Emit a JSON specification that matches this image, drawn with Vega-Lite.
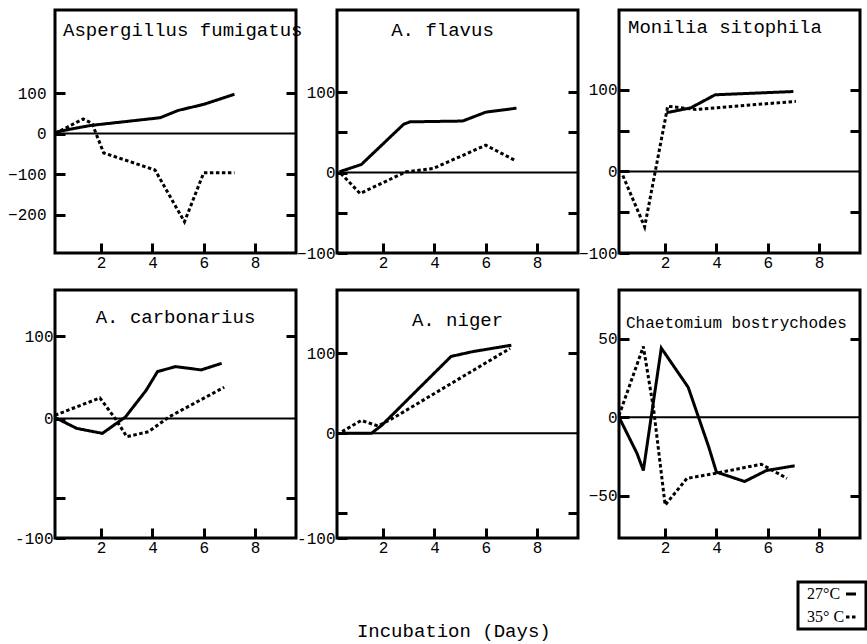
{
"$schema": "https://vega.github.io/schema/vega-lite/v6.json",
"background": "white",
"padding": {"left": 6, "top": 8, "right": 5, "bottom": 4},
"config": {
  "view": {"stroke": "black", "strokeWidth": 3},
  "axis": {"domain": false, "grid": false, "tickColor": "black", "tickWidth": 3, "tickSize": -10, "labelFont": "Liberation Mono", "labelFontSize": 16, "labelColor": "black", "title": null, "labelPadding": 12},
  "axisX": {"labelPadding": 11},
  "title": {"font": "Liberation Mono", "fontSize": 19, "fontWeight": "normal", "color": "black", "frame": "group"},
  "legend": {"symbolType": "stroke", "symbolStrokeWidth": 3, "symbolSize": 100, "symbolStrokeColor": "black", "labelFont": "Liberation Serif", "labelFontSize": 16, "labelColor": "black", "strokeColor": "black", "padding": 4, "rowPadding": 7}
},
"data": {"values": [
{"p":"Aspergillus fumigatus","t":"27°C","d":0.2,"v":3},
{"p":"Aspergillus fumigatus","t":"27°C","d":0.9,"v":12},
{"p":"Aspergillus fumigatus","t":"27°C","d":1.6,"v":20},
{"p":"Aspergillus fumigatus","t":"27°C","d":4.3,"v":39},
{"p":"Aspergillus fumigatus","t":"27°C","d":5.0,"v":57},
{"p":"Aspergillus fumigatus","t":"27°C","d":6.0,"v":72},
{"p":"Aspergillus fumigatus","t":"27°C","d":7.2,"v":97},
{"p":"Aspergillus fumigatus","t":"35° C","d":0.2,"v":0},
{"p":"Aspergillus fumigatus","t":"35° C","d":1.3,"v":36},
{"p":"Aspergillus fumigatus","t":"35° C","d":1.65,"v":25},
{"p":"Aspergillus fumigatus","t":"35° C","d":1.8,"v":0},
{"p":"Aspergillus fumigatus","t":"35° C","d":2.1,"v":-48},
{"p":"Aspergillus fumigatus","t":"35° C","d":4.1,"v":-90},
{"p":"Aspergillus fumigatus","t":"35° C","d":5.25,"v":-218},
{"p":"Aspergillus fumigatus","t":"35° C","d":6.0,"v":-97},
{"p":"Aspergillus fumigatus","t":"35° C","d":7.2,"v":-97},
{"p":"A. flavus","t":"27°C","d":0.3,"v":1},
{"p":"A. flavus","t":"27°C","d":1.15,"v":10},
{"p":"A. flavus","t":"27°C","d":2.8,"v":60},
{"p":"A. flavus","t":"27°C","d":3.05,"v":63},
{"p":"A. flavus","t":"27°C","d":5.1,"v":64},
{"p":"A. flavus","t":"27°C","d":6.0,"v":75},
{"p":"A. flavus","t":"27°C","d":7.2,"v":80},
{"p":"A. flavus","t":"35° C","d":0.35,"v":-1},
{"p":"A. flavus","t":"35° C","d":1.1,"v":-26},
{"p":"A. flavus","t":"35° C","d":2.9,"v":1},
{"p":"A. flavus","t":"35° C","d":3.95,"v":5},
{"p":"A. flavus","t":"35° C","d":6.0,"v":34},
{"p":"A. flavus","t":"35° C","d":7.15,"v":15},
{"p":"Monilia sitophila","t":"27°C","d":2.05,"v":72},
{"p":"Monilia sitophila","t":"27°C","d":3.0,"v":78},
{"p":"Monilia sitophila","t":"27°C","d":3.95,"v":94},
{"p":"Monilia sitophila","t":"27°C","d":7.0,"v":98},
{"p":"Monilia sitophila","t":"35° C","d":0.35,"v":-5},
{"p":"Monilia sitophila","t":"35° C","d":1.2,"v":-68},
{"p":"Monilia sitophila","t":"35° C","d":2.1,"v":80},
{"p":"Monilia sitophila","t":"35° C","d":3.2,"v":76},
{"p":"Monilia sitophila","t":"35° C","d":7.1,"v":86},
{"p":"A. carbonarius","t":"27°C","d":0.15,"v":2},
{"p":"A. carbonarius","t":"27°C","d":1.05,"v":-12},
{"p":"A. carbonarius","t":"27°C","d":2.05,"v":-18},
{"p":"A. carbonarius","t":"27°C","d":2.95,"v":2},
{"p":"A. carbonarius","t":"27°C","d":3.75,"v":34},
{"p":"A. carbonarius","t":"27°C","d":4.2,"v":57},
{"p":"A. carbonarius","t":"27°C","d":4.9,"v":63},
{"p":"A. carbonarius","t":"27°C","d":5.9,"v":59},
{"p":"A. carbonarius","t":"27°C","d":6.7,"v":67},
{"p":"A. carbonarius","t":"35° C","d":0.2,"v":4},
{"p":"A. carbonarius","t":"35° C","d":1.95,"v":25},
{"p":"A. carbonarius","t":"35° C","d":2.55,"v":0},
{"p":"A. carbonarius","t":"35° C","d":3.0,"v":-22},
{"p":"A. carbonarius","t":"35° C","d":3.85,"v":-16},
{"p":"A. carbonarius","t":"35° C","d":4.65,"v":2},
{"p":"A. carbonarius","t":"35° C","d":6.8,"v":38},
{"p":"A. niger","t":"27°C","d":0.4,"v":0},
{"p":"A. niger","t":"27°C","d":1.55,"v":0},
{"p":"A. niger","t":"27°C","d":1.95,"v":10},
{"p":"A. niger","t":"27°C","d":4.65,"v":96},
{"p":"A. niger","t":"27°C","d":5.5,"v":102},
{"p":"A. niger","t":"27°C","d":7.0,"v":110},
{"p":"A. niger","t":"35° C","d":0.4,"v":2},
{"p":"A. niger","t":"35° C","d":1.15,"v":16},
{"p":"A. niger","t":"35° C","d":1.8,"v":9},
{"p":"A. niger","t":"35° C","d":2.45,"v":20},
{"p":"A. niger","t":"35° C","d":6.95,"v":106},
{"p":"Chaetomium bostrychodes","t":"27°C","d":0.2,"v":0},
{"p":"Chaetomium bostrychodes","t":"27°C","d":0.9,"v":-23},
{"p":"Chaetomium bostrychodes","t":"27°C","d":1.15,"v":-34},
{"p":"Chaetomium bostrychodes","t":"27°C","d":1.85,"v":44},
{"p":"Chaetomium bostrychodes","t":"27°C","d":2.9,"v":19},
{"p":"Chaetomium bostrychodes","t":"27°C","d":3.7,"v":-19},
{"p":"Chaetomium bostrychodes","t":"27°C","d":4.0,"v":-35},
{"p":"Chaetomium bostrychodes","t":"27°C","d":5.1,"v":-41},
{"p":"Chaetomium bostrychodes","t":"27°C","d":5.95,"v":-34},
{"p":"Chaetomium bostrychodes","t":"27°C","d":7.05,"v":-31},
{"p":"Chaetomium bostrychodes","t":"35° C","d":0.2,"v":1},
{"p":"Chaetomium bostrychodes","t":"35° C","d":1.15,"v":45},
{"p":"Chaetomium bostrychodes","t":"35° C","d":1.55,"v":5},
{"p":"Chaetomium bostrychodes","t":"35° C","d":2.0,"v":-56},
{"p":"Chaetomium bostrychodes","t":"35° C","d":2.85,"v":-39},
{"p":"Chaetomium bostrychodes","t":"35° C","d":3.9,"v":-36},
{"p":"Chaetomium bostrychodes","t":"35° C","d":5.75,"v":-30},
{"p":"Chaetomium bostrychodes","t":"35° C","d":6.75,"v":-39}
]},
"title": {"text": "Incubation (Days)", "orient": "bottom", "anchor": "middle", "offset": -9, "dx": 17, "fontSize": 19, "frame": "bounds"},
"columns": 3,
"spacing": {"row": 37, "column": 41},
"bounds": "flush",
"concat": [
{
 "width": 241, "height": 243,
 "title": {"text": "Aspergillus fumigatus", "anchor": "start", "dx": 8, "offset": -30},
 "layer": [
  {"data": {"values": [{}]}, "mark": {"type": "rule", "color": "black", "strokeWidth": 2}, "encoding": {"y": {"datum": 0, "type": "quantitative", "axis": {"orient": "right", "labels": false, "values": [-200, -100, 100]}}}},
  {"transform": [{"filter": "datum.p == 'Aspergillus fumigatus'"}],
   "mark": {"type": "line", "color": "black", "strokeWidth": 3, "clip": true},
   "encoding": {
    "x": {"field": "d", "type": "quantitative", "scale": {"domain": [0.2, 9.6], "nice": false, "zero": false}, "axis": {"values": [2, 4, 6, 8], "orient": "bottom"}},
    "y": {"field": "v", "type": "quantitative", "scale": {"domain": [-295, 305], "nice": false, "zero": false}, "axis": {"orient": "left", "values": [-200, -100, 0, 100], "labelPadding": 19}},
    "strokeDash": {"field": "t", "type": "nominal", "scale": {"domain": ["27°C", "35° C"], "range": [[1, 0], [3.5, 2.5]]}, "legend": {"title": null, "orient": "none", "legendX": 743, "legendY": 572, "symbolOffset": 41, "labelOffset": -52, "encode": {"legend": {"update": {"strokeWidth": {"value": 3}}}}}}
   }}
 ],
 "resolve": {"axis": {"y": "independent"}}
},
{
 "width": 241, "height": 243,
 "title": {"text": "A. flavus", "anchor": "middle", "dx": -15, "offset": -30},
 "layer": [
  {"data": {"values": [{}]}, "mark": {"type": "rule", "color": "black", "strokeWidth": 2}, "encoding": {"y": {"datum": 0, "type": "quantitative", "axis": {"orient": "right", "labels": false, "values": [-50, 50, 100]}}}},
  {"transform": [{"filter": "datum.p == 'A. flavus'"}],
   "mark": {"type": "line", "color": "black", "strokeWidth": 3, "clip": true},
   "encoding": {
    "x": {"field": "d", "type": "quantitative", "scale": {"domain": [0.2, 9.6], "nice": false, "zero": false}, "axis": {"values": [2, 4, 6, 8], "orient": "bottom"}},
    "y": {"field": "v", "type": "quantitative", "scale": {"domain": [-100, 202], "nice": false, "zero": false}, "axis": {"orient": "left", "values": [-100, -50, 0, 50, 100], "labelExpr": "datum.value == 50 || datum.value == -50 ? '' : datum.label"}},
    "strokeDash": {"field": "t", "type": "nominal", "scale": {"domain": ["27°C", "35° C"], "range": [[1, 0], [3.5, 2.5]]}, "legend": {"title": null, "orient": "none", "legendX": 743, "legendY": 572, "symbolOffset": 41, "labelOffset": -52, "encode": {"legend": {"update": {"strokeWidth": {"value": 3}}}}}}
   }}
 ],
 "resolve": {"axis": {"y": "independent"}}
},
{
 "width": 241, "height": 243,
 "title": {"text": "Monilia sitophila", "anchor": "start", "dx": 9, "offset": -27},
 "layer": [
  {"data": {"values": [{}]}, "mark": {"type": "rule", "color": "black", "strokeWidth": 2}, "encoding": {"y": {"datum": 0, "type": "quantitative", "axis": {"orient": "right", "labels": false, "values": [-50, 50, 100]}}}},
  {"transform": [{"filter": "datum.p == 'Monilia sitophila'"}],
   "mark": {"type": "line", "color": "black", "strokeWidth": 3, "clip": true},
   "encoding": {
    "x": {"field": "d", "type": "quantitative", "scale": {"domain": [0.2, 9.6], "nice": false, "zero": false}, "axis": {"values": [2, 4, 6, 8], "orient": "bottom"}},
    "y": {"field": "v", "type": "quantitative", "scale": {"domain": [-100, 198], "nice": false, "zero": false}, "axis": {"orient": "left", "values": [-100, -50, 0, 50, 100], "labelExpr": "datum.value == 50 || datum.value == -50 ? '' : datum.label"}},
    "strokeDash": {"field": "t", "type": "nominal", "scale": {"domain": ["27°C", "35° C"], "range": [[1, 0], [3.5, 2.5]]}, "legend": {"title": null, "orient": "none", "legendX": 743, "legendY": 572, "symbolOffset": 41, "labelOffset": -52, "encode": {"legend": {"update": {"strokeWidth": {"value": 3}}}}}}
   }}
 ],
 "resolve": {"axis": {"y": "independent"}}
},
{
 "width": 241, "height": 248,
 "title": {"text": "A. carbonarius", "anchor": "middle", "offset": -37},
 "layer": [
  {"data": {"values": [{}]}, "mark": {"type": "rule", "color": "black", "strokeWidth": 2}, "encoding": {"y": {"datum": 0, "type": "quantitative", "axis": {"orient": "right", "labels": false, "values": [-96, 100]}}}},
  {"transform": [{"filter": "datum.p == 'A. carbonarius'"}],
   "mark": {"type": "line", "color": "black", "strokeWidth": 3, "clip": true},
   "encoding": {
    "x": {"field": "d", "type": "quantitative", "scale": {"domain": [0.2, 9.6], "nice": false, "zero": false}, "axis": {"values": [2, 4, 6, 8], "orient": "bottom"}},
    "y": {"field": "v", "type": "quantitative", "scale": {"domain": [-145, 156], "nice": false, "zero": false}, "axis": {"orient": "left", "values": [-145, -96, 0, 100], "labelExpr": "datum.value == -145 ? '-100' : datum.value == -96 ? '' : datum.label"}},
    "strokeDash": {"field": "t", "type": "nominal", "scale": {"domain": ["27°C", "35° C"], "range": [[1, 0], [3.5, 2.5]]}, "legend": {"title": null, "orient": "none", "legendX": 743, "legendY": 572, "symbolOffset": 41, "labelOffset": -52, "encode": {"legend": {"update": {"strokeWidth": {"value": 3}}}}}}
   }}
 ],
 "resolve": {"axis": {"y": "independent"}}
},
{
 "width": 241, "height": 248,
 "title": {"text": "A. niger", "anchor": "middle", "offset": -40},
 "layer": [
  {"data": {"values": [{}]}, "mark": {"type": "rule", "color": "black", "strokeWidth": 2}, "encoding": {"y": {"datum": 0, "type": "quantitative", "axis": {"orient": "right", "labels": false, "values": [-100, 100]}}}},
  {"transform": [{"filter": "datum.p == 'A. niger'"}],
   "mark": {"type": "line", "color": "black", "strokeWidth": 3, "clip": true},
   "encoding": {
    "x": {"field": "d", "type": "quantitative", "scale": {"domain": [0.2, 9.6], "nice": false, "zero": false}, "axis": {"values": [2, 4, 6, 8], "orient": "bottom"}},
    "y": {"field": "v", "type": "quantitative", "scale": {"domain": [-131, 179], "nice": false, "zero": false}, "axis": {"orient": "left", "values": [-131, -100, 0, 100], "labelExpr": "datum.value == -131 ? '-100' : datum.value == -100 ? '' : datum.label"}},
    "strokeDash": {"field": "t", "type": "nominal", "scale": {"domain": ["27°C", "35° C"], "range": [[1, 0], [3.5, 2.5]]}, "legend": {"title": null, "orient": "none", "legendX": 743, "legendY": 572, "symbolOffset": 41, "labelOffset": -52, "encode": {"legend": {"update": {"strokeWidth": {"value": 3}}}}}}
   }}
 ],
 "resolve": {"axis": {"y": "independent"}}
},
{
 "width": 241, "height": 248,
 "title": {"text": "Chaetomium bostrychodes", "anchor": "start", "dx": 7, "offset": -41, "fontSize": 16},
 "layer": [
  {"data": {"values": [{}]}, "mark": {"type": "rule", "color": "black", "strokeWidth": 2}, "encoding": {"y": {"datum": 0, "type": "quantitative", "axis": {"orient": "right", "labels": false, "values": [-50, 50]}}}},
  {"transform": [{"filter": "datum.p == 'Chaetomium bostrychodes'"}],
   "mark": {"type": "line", "color": "black", "strokeWidth": 3, "clip": true},
   "encoding": {
    "x": {"field": "d", "type": "quantitative", "scale": {"domain": [0.2, 9.6], "nice": false, "zero": false}, "axis": {"values": [2, 4, 6, 8], "orient": "bottom"}},
    "y": {"field": "v", "type": "quantitative", "scale": {"domain": [-77, 81], "nice": false, "zero": false}, "axis": {"orient": "left", "values": [-50, 0, 50]}},
    "strokeDash": {"field": "t", "type": "nominal", "scale": {"domain": ["27°C", "35° C"], "range": [[1, 0], [3.5, 2.5]]}, "legend": {"title": null, "orient": "none", "legendX": 743, "legendY": 572, "symbolOffset": 41, "labelOffset": -52, "encode": {"legend": {"update": {"strokeWidth": {"value": 3}}}}}}
   }}
 ],
 "resolve": {"axis": {"y": "independent"}}
}
]
}
